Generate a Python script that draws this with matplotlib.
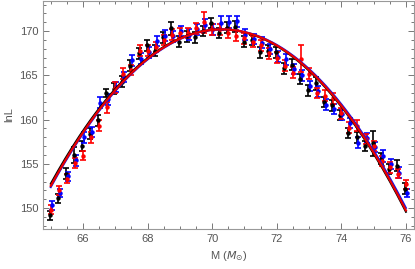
import numpy as np
import matplotlib
matplotlib.use("Agg")
import matplotlib.pyplot as plt
from matplotlib.ticker import MultipleLocator

# masses (solar masses), same grid for the three runs
masa = [65.0 + 0.25 * i for i in range(45)]

lnl_negro = [149.2, 151.1, 153.9, 156.0, 157.0, 158.4, 159.9, 163.0, 163.5, 164.3,
             166.1, 167.5, 168.4, 167.8, 169.3, 170.3, 168.8, 169.4, 169.3, 170.0,
             170.9, 169.8, 170.4, 170.5, 168.8, 169.0, 167.6, 167.8, 167.6, 165.8,
             166.2, 164.6, 163.3, 164.1, 162.0, 161.6, 160.5, 158.5, 158.0, 157.0,
             157.3, 155.6, 154.4, 154.8, 152.2]
lnl_azul = [150.3, 151.7, 153.6, 155.4, 158.0, 158.6, 161.9, 162.3, 163.7, 164.8,
            166.7, 166.9, 167.6, 168.9, 169.5, 169.4, 170.0, 169.6, 170.2, 170.7,
            170.2, 170.9, 171.0, 171.1, 169.6, 169.1, 168.7, 168.0, 167.1, 166.8,
            165.7, 165.0, 163.8, 163.2, 161.7, 161.2, 160.6, 159.6, 157.4, 157.9,
            156.9, 155.9, 155.0, 154.0, 151.7]
lnl_rojo = [149.8, 152.0, 153.3, 155.1, 155.9, 158.0, 159.3, 161.4, 163.6, 165.2,
            165.6, 167.8, 167.8, 168.2, 169.0, 169.6, 169.8, 169.8, 170.3, 171.0,
            170.2, 170.2, 169.8, 169.5, 169.2, 168.8, 168.4, 167.5, 167.0, 166.1,
            165.3, 166.9, 165.2, 163.0, 162.7, 162.4, 160.7, 159.1, 159.3, 157.8,
            157.0, 155.3, 154.6, 153.9, 152.7]

err_negro = [0.5, 0.5, 0.6, 0.9, 0.6, 0.6, 0.6, 0.5, 0.6, 0.6,
             0.6, 0.6, 0.6, 0.6, 0.6, 0.7, 0.6, 0.6, 0.6, 0.6,
             0.6, 0.6, 0.6, 0.6, 0.6, 0.6, 0.6, 0.6, 0.6, 0.6,
             0.6, 0.6, 0.6, 0.7, 0.6, 0.6, 0.6, 0.6, 0.6, 0.6,
             1.4, 0.6, 0.6, 0.6, 0.6]
err_azul = [0.5, 0.5, 0.5, 0.6, 0.6, 0.6, 0.6, 0.6, 0.6, 0.6,
            0.6, 0.6, 0.6, 0.6, 0.6, 0.6, 0.6, 0.6, 0.6, 0.7,
            0.6, 0.8, 0.7, 0.6, 0.6, 0.6, 0.6, 0.6, 0.6, 0.6,
            0.6, 0.6, 0.6, 0.6, 0.6, 0.6, 0.6, 0.6, 0.6, 0.6,
            0.6, 0.7, 0.6, 0.6, 0.5]
err_rojo = [0.5, 0.5, 0.5, 0.6, 0.5, 0.6, 0.6, 0.6, 0.6, 0.6,
            0.6, 0.6, 0.6, 0.6, 0.6, 0.6, 0.6, 0.6, 0.6, 1.2,
            0.6, 0.6, 0.6, 0.6, 0.6, 0.6, 0.6, 0.6, 0.6, 0.6,
            0.6, 1.5, 0.6, 0.6, 0.6, 0.6, 0.6, 0.6, 0.6, 0.6,
            0.6, 0.6, 0.6, 0.5, 0.5]

# parabolic fits: (peak, centre, curvature)
ajuste_negro = [170.2, 70.27, 0.6284]
ajuste_azul = [170.2, 70.33, 0.628]
ajuste_rojo = [170.2, 70.3, 0.63]

gris = "#777777"
plt.rcParams['font.family'] = ['Liberation Sans', 'DejaVu Sans']

fig = plt.figure(figsize=(4.15, 2.69), dpi=100)
ax = fig.add_axes([0.1036, 0.1487, 0.894, 0.849])

series = [(lnl_negro, err_negro, "black", -0.03),
          (lnl_azul, err_azul, "#0000ff", 0.03),
          (lnl_rojo, err_rojo, "#ff0000", 0.0)]
for y, e, c, dx in series:
    ax.errorbar(np.array(masa) + dx, y, yerr=e, fmt='o', color=c, ms=2.2,
                elinewidth=1.2, capsize=2.2, capthick=1.2, zorder=3)

xs = np.linspace(65, 76, 200)
for (p, x0, a), c, w in [(ajuste_negro, "black", 1.4), (ajuste_azul, "#1010ee", 1.4),
                         (ajuste_rojo, "#e80000", 1.6)]:
    ax.plot(xs, p - a * (xs - x0) ** 2, color=c, lw=w, zorder=4)

ax.set_xlim(64.76, 76.25)
ax.set_ylim(147.63, 173.45)
ax.xaxis.set_major_locator(MultipleLocator(2))
ax.xaxis.set_minor_locator(MultipleLocator(0.5))
ax.yaxis.set_major_locator(MultipleLocator(5))
ax.yaxis.set_minor_locator(MultipleLocator(1))
ax.tick_params(which='both', direction='in', top=True, right=True,
               colors=gris, labelcolor="#555555", labelsize=8, width=0.7)
ax.tick_params(which='major', length=4, pad=3.5)
ax.tick_params(which='minor', length=2)
for s in ax.spines.values():
    s.set_color("#999999")
    s.set_linewidth(0.8)

ax.set_xlabel(r"M ($M_{\odot}$)", color="#555555", fontsize=8, labelpad=4)
ax.set_ylabel("lnL", color="#555555", fontsize=8, labelpad=4)

fig.savefig("out.png", dpi=100)
